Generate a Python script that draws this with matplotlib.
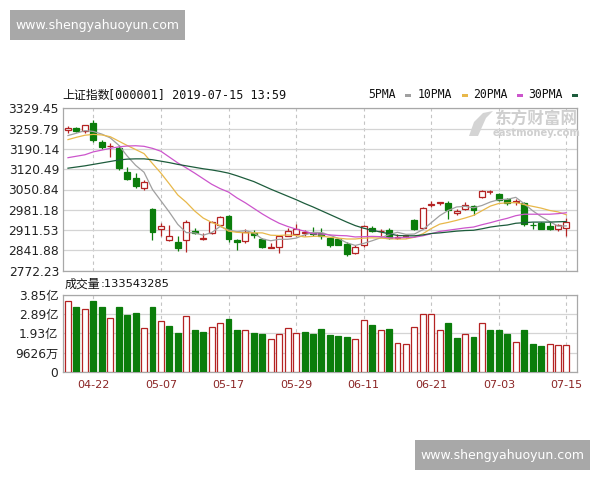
import matplotlib
matplotlib.use("Agg")
import matplotlib.pyplot as plt
from matplotlib.patches import Rectangle, Polygon
import numpy as np

plt.rcParams["font.family"] = ["DejaVu Sans", "Noto Sans CJK SC"]

# trading days shown (2019)
dates = ["04-17", "04-18", "04-19", "04-22", "04-23", "04-24", "04-25", "04-26", "04-29", "04-30",
         "05-06", "05-07", "05-08", "05-09", "05-10", "05-13", "05-14", "05-15", "05-16", "05-17",
         "05-20", "05-21", "05-22", "05-23", "05-24", "05-27", "05-28", "05-29", "05-30", "05-31",
         "06-03", "06-04", "06-05", "06-06", "06-10", "06-11", "06-12", "06-13", "06-14", "06-17",
         "06-18", "06-19", "06-20", "06-21", "06-24", "06-25", "06-26", "06-27", "06-28", "07-01",
         "07-02", "07-03", "07-04", "07-05", "07-08", "07-09", "07-10", "07-11", "07-12", "07-15"]
tick_dates = ["04-22", "05-07", "05-17", "05-29", "06-11", "06-21", "07-03", "07-15"]

opens = [3255, 3263, 3250, 3280, 3214, 3199, 3192, 3112, 3090, 3057,
         2984, 2915, 2877, 2872, 2877, 2910, 2880, 2900, 2930, 2960,
         2879, 2875, 2903, 2880, 2850, 2852, 2893, 2897, 2903, 2900,
         2902, 2885, 2882, 2865, 2834, 2859, 2920, 2907, 2913, 2885,
         2890, 2945, 2920, 2996, 3004, 3005, 2969, 2985, 2994, 3025,
         3043, 3034, 3017, 3007, 3003, 2930, 2935, 2926, 2917, 2918]
closes = [3263, 3251, 3271, 3221, 3198, 3201, 3124, 3086, 3062, 3078,
          2906, 2926, 2893, 2850, 2939, 2903, 2883, 2938, 2955, 2882,
          2871, 2905, 2895, 2853, 2853, 2892, 2909, 2914, 2905, 2898,
          2890, 2862, 2861, 2828, 2852, 2925, 2910, 2910, 2885, 2888,
          2890, 2917, 2987, 3001, 3008, 2982, 2977, 2996, 2979, 3044,
          3044, 3015, 3005, 3011, 2933, 2928, 2915, 2917, 2930, 2940]
highs = [3270, 3266, 3273, 3288, 3219, 3210, 3202, 3129, 3107, 3085,
         2988, 2935, 2930, 2890, 2947, 2920, 2903, 2944, 2960, 2962,
         2882, 2915, 2913, 2884, 2868, 2895, 2920, 2934, 2912, 2922,
         2920, 2888, 2885, 2869, 2860, 2930, 2925, 2917, 2920, 2897,
         2893, 2949, 2990, 3010, 3009, 3010, 2984, 3009, 2996, 3049,
         3048, 3038, 3023, 3018, 3008, 2940, 2940, 2938, 2934, 2953]
lows = [3245, 3248, 3246, 3213, 3190, 3164, 3118, 3083, 3055, 3050,
        2878, 2892, 2873, 2840, 2838, 2897, 2877, 2898, 2925, 2870,
        2842, 2868, 2884, 2850, 2850, 2833, 2890, 2892, 2890, 2893,
        2880, 2855, 2860, 2822, 2830, 2852, 2905, 2893, 2880, 2880,
        2884, 2912, 2917, 2990, 2996, 2950, 2962, 2982, 2963, 3021,
        3035, 3010, 2998, 2998, 2925, 2916, 2914, 2912, 2910, 2890]

ma5 = [3236, 3244, 3253, 3250, 3241, 3228, 3203, 3166, 3134, 3110,
       3051, 3012, 2973, 2931, 2903, 2902, 2894, 2903, 2924, 2912,
       2906, 2910, 2902, 2881, 2875, 2880, 2880, 2884, 2895, 2904,
       2903, 2894, 2883, 2868, 2859, 2866, 2875, 2885, 2896, 2904,
       2897, 2898, 2913, 2937, 2961, 2979, 2991, 2993, 2988, 2996,
       3008, 3016, 3017, 3024, 3002, 2978, 2958, 2941, 2925, 2926]
ma10 = [3222, 3230, 3237, 3240, 3238, 3232, 3217, 3202, 3188, 3174,
        3140, 3107, 3070, 3032, 3007, 2977, 2953, 2938, 2927, 2908,
        2904, 2902, 2902, 2902, 2894, 2893, 2895, 2893, 2888, 2890,
        2891, 2887, 2884, 2881, 2881, 2884, 2885, 2884, 2882, 2881,
        2881, 2887, 2899, 2917, 2932, 2938, 2945, 2953, 2962, 2978,
        2994, 3003, 3005, 3006, 2999, 2993, 2987, 2979, 2974, 2964]
ma20 = [3160, 3165, 3170, 3180, 3186, 3192, 3197, 3200, 3201, 3199,
        3192, 3182, 3162, 3142, 3125, 3107, 3088, 3069, 3054, 3042,
        3022, 3005, 2986, 2967, 2950, 2935, 2924, 2915, 2908, 2899,
        2898, 2895, 2893, 2892, 2888, 2889, 2890, 2889, 2885, 2885,
        2886, 2887, 2892, 2899, 2907, 2911, 2915, 2919, 2922, 2930,
        2937, 2945, 2952, 2961, 2966, 2966, 2966, 2966, 2968, 2971]
ma30 = [3124, 3128, 3132, 3137, 3142, 3147, 3152, 3155, 3156, 3156,
        3153, 3148, 3143, 3137, 3132, 3127, 3122, 3118, 3113, 3107,
        3098, 3088, 3078, 3065, 3052, 3040, 3028, 3016, 3003, 2991,
        2978, 2965, 2952, 2939, 2927, 2918, 2911, 2905, 2899, 2893,
        2892, 2892, 2895, 2900, 2902, 2905, 2908, 2910, 2911, 2916,
        2922, 2926, 2929, 2935, 2937, 2939, 2939, 2939, 2940, 2941]

# volume in 亿 (1e8)
volume = [3.54, 3.26, 3.13, 3.54, 3.26, 2.68, 3.26, 2.83, 2.93, 2.18,
          3.26, 2.54, 2.29, 1.96, 2.79, 2.08, 2.01, 2.24, 2.46, 2.63,
          2.08, 2.08, 1.96, 1.91, 1.63, 1.91, 2.18, 1.96, 2.01, 1.91,
          2.13, 1.85, 1.80, 1.75, 1.63, 2.58, 2.34, 2.08, 2.13, 1.46,
          1.41, 2.24, 2.88, 2.88, 2.08, 2.43, 1.68, 1.91, 1.75, 2.46,
          2.08, 2.08, 1.91, 1.51, 2.08, 1.41, 1.30, 1.41, 1.35, 1.335]
vol_up = [1, 0, 1, 0, 0, 1, 0, 0, 0, 1,
          0, 1, 0, 0, 1, 0, 0, 1, 1, 0,
          0, 1, 0, 0, 1, 1, 1, 1, 0, 0,
          0, 0, 0, 0, 1, 1, 0, 1, 0, 1,
          1, 1, 1, 1, 1, 0, 0, 1, 0, 1,
          0, 0, 0, 1, 0, 0, 0, 1, 1, 1]

price_ticks = [2772.23, 2841.88, 2911.53, 2981.18, 3050.84, 3120.49, 3190.14, 3259.79, 3329.45]
vol_ticks = [0, 0.9626, 1.9252, 2.8878, 3.8504]
vol_tick_labels = ["0", "9626万", "1.93亿", "2.89亿", "3.85亿"]

RED = "#b42323"
GREEN = "#0b7d0b"
GRID = "#d4d4d4"
MONO = ["DejaVu Sans Mono", "Noto Sans CJK SC"]
CJK = ["Noto Sans CJK SC", "DejaVu Sans"]
W, H = 600, 480


def fx(px):
    return px / W


def fy(py):
    return 1 - py / H


fig = plt.figure(figsize=(6, 4.8), dpi=100, facecolor="white")

ax = fig.add_axes([fx(62.5), fy(270.7), fx(514), 162.4 / H])
vx = fig.add_axes([fx(62.5), fy(371.7), fx(514), 76.7 / H])

x = np.arange(len(dates))
tick_pos = [dates.index(d) for d in tick_dates]

# candles
for i in x:
    o, c, h, l = opens[i], closes[i], highs[i], lows[i]
    col = RED if c >= o else GREEN
    ax.vlines(i, l, h, color=col, linewidth=0.9, zorder=3)
    lo, hi = min(o, c), max(o, c)
    if hi - lo < 2:
        ax.hlines((o + c) / 2, i - 0.35, i + 0.35, color=col, linewidth=1.2, zorder=4)
    else:
        ax.bar(i, hi - lo, bottom=lo, width=0.7,
               facecolor="white" if c >= o else GREEN,
               edgecolor=col, linewidth=0.9, zorder=4)

ax.plot(x, ma5, color="#a0a0a0", linewidth=0.9, zorder=5)
ax.plot(x, ma10, color="#e8b84a", linewidth=0.9, zorder=5)
ax.plot(x, ma20, color="#cc55cc", linewidth=0.9, zorder=5)
ax.plot(x, ma30, color="#1d5c3c", linewidth=0.9, zorder=5)

ax.set_xlim(-0.65, 60.19)
ax.set_ylim(price_ticks[0], price_ticks[-1])
ax.set_yticks(price_ticks)
ax.set_yticklabels(["%.2f" % v for v in price_ticks], fontsize=8.8, color="#222222")
ax.set_xticks(tick_pos)
ax.set_xticklabels([])
ax.tick_params(length=0, pad=2.5)
ax.grid(axis="y", color=GRID, linewidth=0.9)
ax.grid(axis="x", color="#c4c4c4", linewidth=0.8, linestyle=(0, (3, 3)))
ax.set_axisbelow(True)
for s in ax.spines.values():
    s.set_color("#a8a8a8")
    s.set_linewidth(0.9)

# volume
for i in x:
    if vol_up[i]:
        vx.bar(i, volume[i], width=0.7, facecolor="white", edgecolor=RED, linewidth=0.9, zorder=3)
    else:
        vx.bar(i, volume[i], width=0.7, facecolor=GREEN, edgecolor=GREEN, linewidth=0.9, zorder=3)

vx.set_xlim(-0.65, 60.19)
vx.set_ylim(0, vol_ticks[-1])
vx.set_yticks(vol_ticks)
vx.set_yticklabels(vol_tick_labels, fontsize=8.8, color="#222222")
vx.set_xticks(tick_pos)
vx.set_xticklabels(tick_dates, fontsize=8, color="#8b2525",
                   family=["Liberation Sans Narrow", "DejaVu Sans"])
vx.tick_params(length=0, pad=3)
vx.tick_params(axis="x", pad=6)
vx.grid(axis="y", color=GRID, linewidth=0.9)
vx.grid(axis="x", color="#c4c4c4", linewidth=0.8, linestyle=(0, (3, 3)))
vx.set_axisbelow(True)
for s in vx.spines.values():
    s.set_color("#a8a8a8")
    s.set_linewidth(0.9)

# header texts
fig.text(fx(62), fy(95), "上证指数", fontsize=8.6, family=CJK,
         va="center", ha="left", color="#111111")
fig.text(fx(108), fy(95), "[000001] 2019-07-15 13:59", fontsize=8.5, family=MONO,
         va="center", ha="left", color="#111111")
fig.text(fx(65), fy(284), "成交量", fontsize=8.6, family=CJK,
         va="center", ha="left", color="#111111")
fig.text(fx(101), fy(284), ":133543285", fontsize=8.2,
         va="center", ha="left", color="#111111")

legend = [("5PMA", "#a0a0a0", 368), ("10PMA", "#e8b84a", 418),
          ("20PMA", "#cc55cc", 473), ("30PMA", "#1d5c3c", 528)]
for name, col, px in legend:
    fig.text(fx(px), fy(95), name, fontsize=8.3, family=MONO,
             va="center", ha="left", color="#111111")
    dash_x = px + 7.2 * len(name) + 8
    fig.patches.append(Rectangle((fx(dash_x), fy(96.5)), fx(6), 3 / H,
                                 transform=fig.transFigure, facecolor=col, edgecolor="none"))

# eastmoney watermark
fig.patches.append(Polygon([(fx(469), fy(136)), (fx(474), fy(122)), (fx(483), fy(113)),
                            (fx(493), fy(111)), (fx(486), fy(118)), (fx(482), fy(127)),
                            (fx(478), fy(136))],
                           closed=True, transform=fig.transFigure,
                           facecolor="#d4d4d4", edgecolor="none"))
fig.text(fx(536), fy(120), "东方财富网", fontsize=12, family=["Noto Sans CJK SC"],
         color="#cfcfcf", ha="center", va="center", weight="bold")
fig.text(fx(537), fy(133), "eastmoney.com", fontsize=7.2, color="#cfcfcf",
         ha="center", va="center", weight="bold")

# site watermarks
for bx, by in [(10, 10), (415, 440)]:
    fig.patches.append(Rectangle((fx(bx), fy(by + 30)), fx(175), 30 / H,
                                 transform=fig.transFigure, facecolor="#a8a8a8",
                                 edgecolor="none"))
    fig.text(fx(bx + 87.5), fy(by + 15), "www.shengyahuoyun.com", fontsize=9,
             color="white", ha="center", va="center")

fig.savefig("out.png", dpi=100, facecolor="white")
